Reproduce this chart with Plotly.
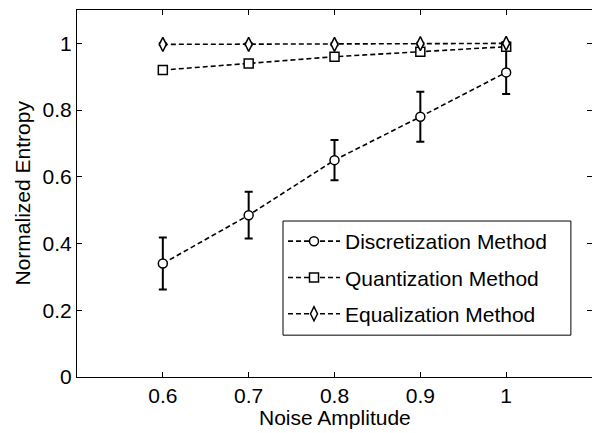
import plotly.graph_objects as go

noise = [0.6, 0.7, 0.8, 0.9, 1.0]
disc = [0.34, 0.485, 0.65, 0.78, 0.913]
disc_err = [0.078, 0.07, 0.06, 0.075, 0.065]
quant = [0.92, 0.94, 0.96, 0.975, 0.99]
quant_err = [0.006, 0.006, 0.006, 0.006, 0.006]
equal = [0.997, 0.997, 0.997, 0.999, 1.0]
equal_err = [0.003, 0.003, 0.003, 0.003, 0.003]

fig = go.Figure()

def add(name, y, err, symbol, size, grp):
    fig.add_trace(go.Scatter(
        x=noise, y=y, name=name, mode="lines+markers", legendgroup=grp,
        line=dict(color="black", width=1.6, dash="5px,3px"),
        marker=dict(symbol=symbol, size=size, color="white", line=dict(color="black", width=1.5)),
        error_y=dict(type="data", array=err, color="black", thickness=2, width=4),
    ))

add("Discretization Method", disc, disc_err, "circle", 9, "a")
add("Quantization Method", quant, quant_err, "square", 9, "b")
add("Equalization Method", equal, equal_err, "diamond-tall", 10, "c")

axis_common = dict(showline=True, linecolor="black", linewidth=1, mirror="ticks",
                   ticks="inside", ticklen=5, tickcolor="black", showgrid=False,
                   zeroline=False, automargin=False,
                   tickfont=dict(size=21, color="black"))

# legend frame (paper coordinates of the plot area)
legend_box = dict(x0=0.4, x1=0.959, y0=0.114, y1=0.425)

fig.update_layout(
    width=592, height=433,
    margin=dict(l=77, r=0, t=10, b=56),
    paper_bgcolor="white", plot_bgcolor="white",
    font=dict(family="Liberation Sans, Arial", size=21, color="black"),
    xaxis=dict(range=[0.5, 1.1], tickvals=[0.6, 0.7, 0.8, 0.9, 1.0],
               ticktext=["0.6", "0.7", "0.8", "0.9", "1"], **axis_common),
    yaxis=dict(range=[0, 1.1], tickvals=[0, 0.2, 0.4, 0.6, 0.8, 1.0],
               ticktext=["0", "0.2", "0.4", "0.6", "0.8", "1"], **axis_common),
    annotations=[
        dict(text="Noise Amplitude", xref="paper", yref="paper", x=0.5, y=-40/367,
             xanchor="center", yanchor="middle", showarrow=False, font=dict(size=21)),
        dict(text="Normalized Entropy", xref="paper", yref="paper", x=-55/515, y=0.5,
             xanchor="center", yanchor="middle", textangle=-90, showarrow=False,
             font=dict(size=21)),
    ],
    shapes=[dict(type="rect", xref="paper", yref="paper", layer="above",
                 fillcolor="white", line=dict(color="black", width=1), **legend_box)],
    legend=dict(x=0.4, y=0.425, xanchor="left", yanchor="top",
                bgcolor="rgba(0,0,0,0)", borderwidth=0,
                font=dict(size=21), itemwidth=52, traceorder="grouped",
                tracegroupgap=6),
    showlegend=True,
)

fig.write_html("out.html", config={"displayModeBar": False},
               post_script="document.body.style.margin='0';")
